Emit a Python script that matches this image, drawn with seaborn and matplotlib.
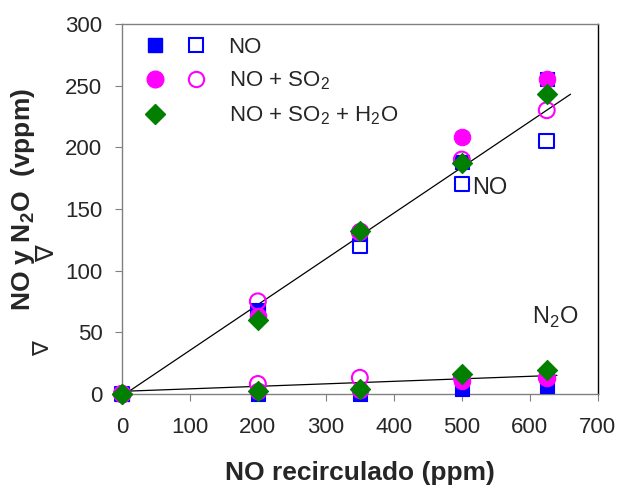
import matplotlib
matplotlib.use("Agg")
import matplotlib.pyplot as plt
from matplotlib.legend_handler import HandlerTuple
from matplotlib.lines import Line2D
import seaborn as sns

# Datos
no_recirc = [0, 200, 350, 500, 625]

# NO medido (vppm)
no_solo_lleno = [0, 68, 130, 188, 255]
no_solo_abierto = [0, 65, 120, 170, 205]
no_so2_lleno = [0, 63, 132, 208, 255]
no_so2_abierto = [0, 75, 131, 190, 230]
no_so2_h2o = [0, 60, 132, 187, 243]

# N2O medido (vppm)
n2o_solo_lleno = [0, 0, 0, 4, 6]
n2o_so2_lleno = [0, 2, 3, 10, 13]
n2o_so2_abierto = [0, 8, 13, 13, 13]
n2o_so2_h2o = [0, 2, 4, 16, 19]

# Rectas de ajuste
recta_x_no = [5, 660]
recta_y_no = [0, 243]
recta_x_n2o = [0, 640]
recta_y_n2o = [2, 15]

sns.set_style("ticks")
plt.rcParams['font.family'] = ['Liberation Sans', 'DejaVu Sans']
plt.rcParams['mathtext.fontset'] = 'custom'
plt.rcParams['mathtext.rm'] = 'Liberation Sans'
plt.rcParams['mathtext.bf'] = 'Liberation Sans:bold'

fig = plt.figure(figsize=(6.22, 4.88), dpi=100)
ax = fig.add_axes([0.196, 0.193, 0.765, 0.758])

sns.lineplot(x=recta_x_no, y=recta_y_no, color="black", lw=0.9, ax=ax)
sns.lineplot(x=recta_x_n2o, y=recta_y_n2o, color="black", lw=0.9, ax=ax)


def puntos(y, marker, color, lleno, s):
    if lleno:
        sns.scatterplot(x=no_recirc, y=y, marker=marker, s=s, color=color,
                        edgecolor=color, linewidth=0.8, ax=ax, zorder=3,
                        clip_on=False)
    else:
        sns.scatterplot(x=no_recirc, y=y, marker=marker, s=s, facecolors="none",
                        edgecolor=color, linewidth=1.5, ax=ax, zorder=3,
                        clip_on=False)


azul = "#0000ff"
magenta = "#ff00ff"
verde = "#007f00"

puntos(no_solo_abierto, "s", azul, False, 110)
puntos(no_solo_lleno, "s", azul, True, 110)
puntos(n2o_solo_lleno, "s", azul, True, 110)
puntos(no_so2_abierto, "o", magenta, False, 130)
puntos(n2o_so2_abierto, "o", magenta, False, 130)
puntos(no_so2_lleno, "o", magenta, True, 140)
puntos(n2o_so2_lleno, "o", magenta, True, 140)
puntos(no_so2_h2o, "D", verde, True, 105)
puntos(n2o_so2_h2o, "D", verde, True, 105)

ax.set_xlim(0, 700)
ax.set_ylim(0, 300)
ax.set_xticks(range(0, 701, 100))
ax.set_yticks(range(0, 301, 50))
ax.tick_params(labelsize=16, length=5, color="#808080")
ax.tick_params(axis="x", pad=12)
ax.tick_params(axis="y", pad=9)
for lado in ["left", "bottom", "top"]:
    ax.spines[lado].set_color("#808080")
ax.spines["right"].set_color("black")
for lado in ax.spines:
    ax.spines[lado].set_linewidth(1.0)

ax.set_xlabel("NO recirculado (ppm)", fontsize=19, fontweight="bold")
ax.xaxis.set_label_coords(0.5, -0.182)
ax.set_ylabel("NO y N$_\\mathbf{2}$O  (vppm)", fontsize=19, fontweight="bold")
ax.yaxis.set_label_coords(-0.178, 0.524)
ax.text(-0.165, 0.122, "∇", transform=ax.transAxes, rotation=90, fontsize=16,
        ha="center", va="center")
ax.text(-0.16, 0.378, "∇", transform=ax.transAxes, rotation=90, fontsize=18,
        ha="center", va="center")

ax.text(541, 167, "NO", fontsize=17, ha="center", va="center")
ax.text(638, 62, "N$_2$O", fontsize=17, ha="center", va="center")

# Leyenda
h_sq_f = Line2D([], [], ls="none", marker="s", ms=10.5, color=azul)
h_sq_o = Line2D([], [], ls="none", marker="s", ms=10, mfc="none", mec=azul, mew=1.5)
h_ci_f = Line2D([], [], ls="none", marker="o", ms=12, color=magenta)
h_ci_o = Line2D([], [], ls="none", marker="o", ms=11, mfc="none", mec=magenta, mew=1.5)
h_di = Line2D([], [], ls="none", marker="D", ms=10, color=verde)
h_vacio = Line2D([], [], ls="none", marker="", color="none")

ax.legend([(h_sq_f, h_sq_o), (h_ci_f, h_ci_o), (h_di, h_vacio)],
          ["NO", "NO + SO$_2$", "NO + SO$_2$ + H$_2$O"],
          handler_map={tuple: HandlerTuple(ndivide=None, pad=0.7)},
          handlelength=3.0, frameon=False, fontsize=16, loc="upper left",
          bbox_to_anchor=(0.0, 1.02), labelspacing=0.55, handletextpad=0.9)

fig.savefig("out.png", dpi=100)
